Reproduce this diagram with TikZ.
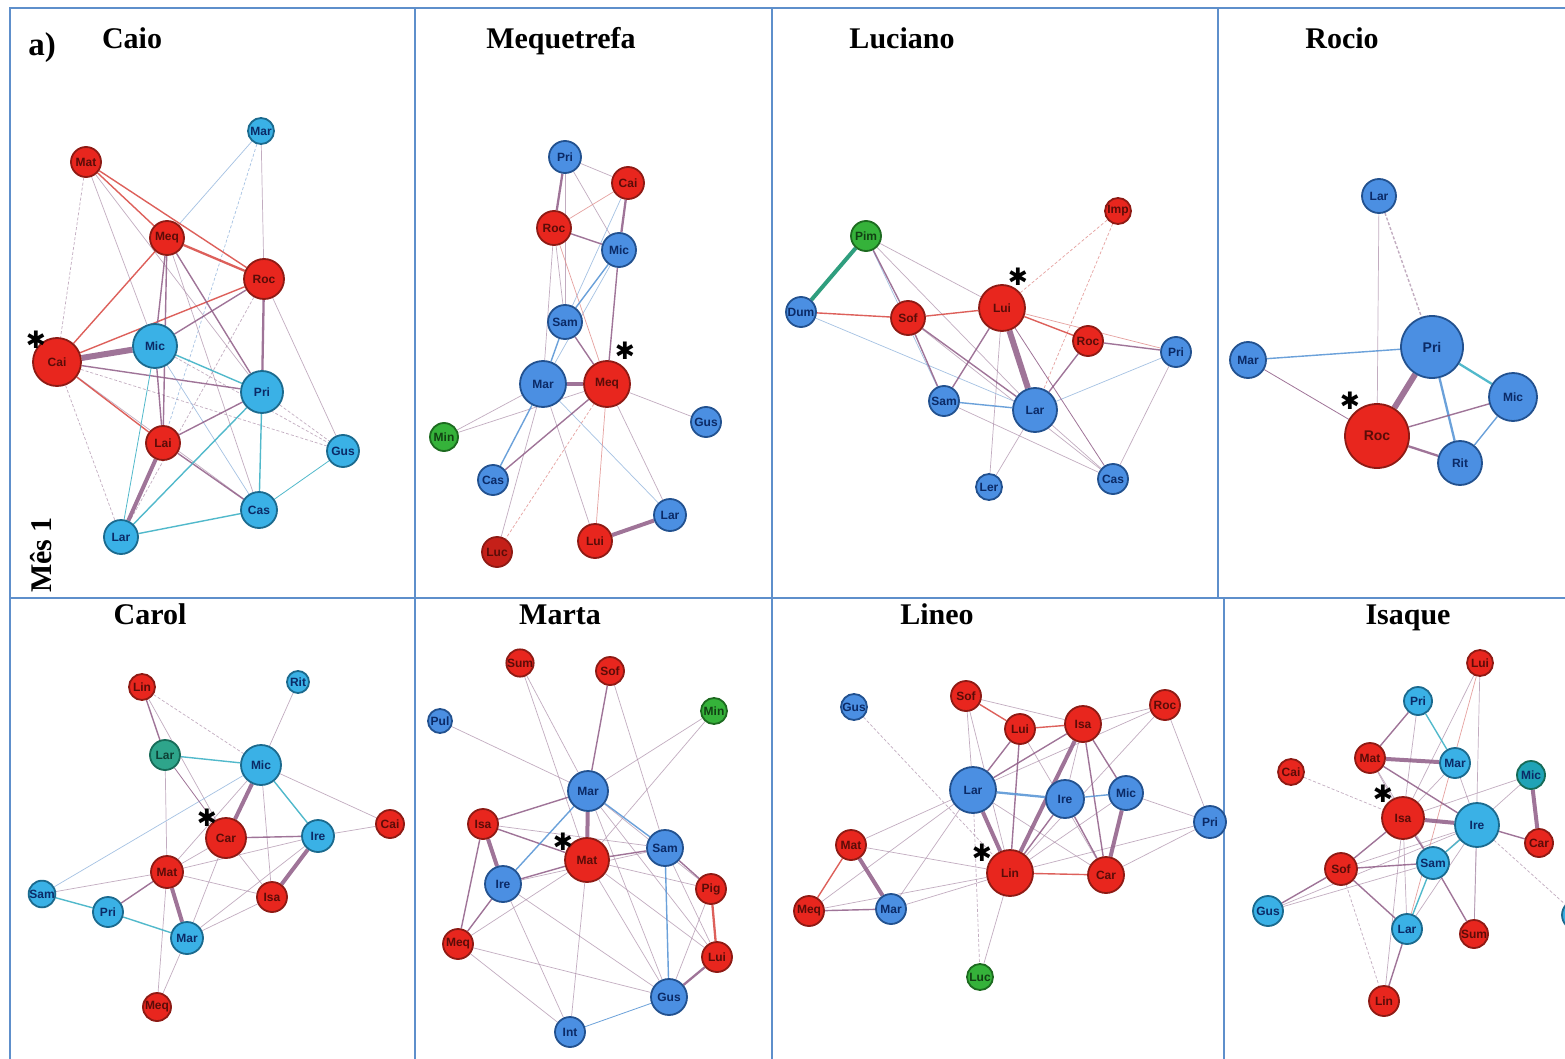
\documentclass[tikz,border=0pt]{standalone}
\usepackage{fontspec}
\setmainfont{Liberation Serif}
\setsansfont{Liberation Sans}
\newfontfamily\symfont{DejaVu Sans}
\usetikzlibrary{backgrounds}
\definecolor{rfill}{HTML}{E8261E}
\definecolor{rdark}{HTML}{8E1A14}
\definecolor{rtext}{HTML}{5A0C08}
\definecolor{lbfill}{HTML}{3AB1E6}
\definecolor{lbdark}{HTML}{1B6A8E}
\definecolor{btext}{HTML}{0B2A66}
\definecolor{mbfill}{HTML}{4B8FE2}
\definecolor{mbdark}{HTML}{22518F}
\definecolor{gfill}{HTML}{35B23A}
\definecolor{gdark}{HTML}{1D6B20}
\definecolor{tfill}{HTML}{2EA58B}
\definecolor{tdark}{HTML}{176B58}
\definecolor{t2fill}{HTML}{1FA3B6}
\definecolor{cred}{HTML}{D8453F}
\definecolor{cpur}{HTML}{8F5C86}
\definecolor{cblue}{HTML}{5B97D6}
\definecolor{cteal}{HTML}{3FB2C6}
\definecolor{cgteal}{HTML}{2F9E7E}
\definecolor{cthin}{HTML}{A98AA6}
\definecolor{cthinb}{HTML}{8FB3DC}
\definecolor{cthinr}{HTML}{E08A88}
\definecolor{framec}{HTML}{5E8FCB}
\tikzset{
  nb/.style={circle, line width=1.8pt, inner sep=0pt, font=\fontsize{12}{12}\selectfont\sffamily\bfseries},
  big/.style={font=\fontsize{14}{14}\selectfont\sffamily\bfseries},
  rn/.style={nb, fill=rfill, draw=rdark, text=rtext, minimum size=#1},
  lb/.style={nb, fill=lbfill, draw=lbdark, text=btext, minimum size=#1},
  mb/.style={nb, fill=mbfill, draw=mbdark, text=btext, minimum size=#1},
  gn/.style={nb, fill=gfill, draw=gdark, text=gdark!60!black, minimum size=#1},
  tn/.style={nb, fill=tfill, draw=tdark, text=tdark!60!black, minimum size=#1},
  tnb/.style={nb, fill=t2fill, draw=tdark, text=btext, minimum size=#1},
  er/.style={draw=cred, draw opacity=0.85},
  ep/.style={draw=cpur, draw opacity=0.85},
  eb/.style={draw=cblue, draw opacity=0.9},
  et/.style={draw=cteal, draw opacity=0.9},
  ex/.style={draw=cthin, draw opacity=0.7, line width=0.7pt},
  exb/.style={draw=cthinb, draw opacity=0.8, line width=0.7pt},
  exr/.style={draw=cthinr, draw opacity=0.8, line width=0.7pt},
  dsh/.style={dash pattern=on 3pt off 2pt},
  w0/.style={line width=0.8pt},
  w1/.style={line width=1.4pt},
  w2/.style={line width=2.3pt},
  w3/.style={line width=4pt},
  w4/.style={line width=6pt},
  ttl/.style={font=\fontsize{30}{30}\selectfont\bfseries, inner sep=0pt, anchor=base},
  astk/.style={font=\fontsize{24}{24}\selectfont\symfont, inner sep=0pt},
  framesty/.style={draw=framec, line width=1.2pt}
}
\begin{document}
\begin{tikzpicture}[x=1pt,y=-1pt]
\useasboundingbox (0,0) rectangle (1565,1059);
% ---------- titles ----------
\node[ttl, font=\fontsize{33}{33}\selectfont\bfseries] (lbla) at (42,56) {a)};
\node[ttl] (t1) at (132,49) {Caio};
\node[ttl] (t2) at (561,49) {Mequetrefa};
\node[ttl] (t3) at (902,49) {Luciano};
\node[ttl] (t4) at (1342,49) {Rocio};
\node[ttl] (t5) at (150,624) {Carol};
\node[ttl] (t6) at (560,624) {Marta};
\node[ttl] (t7) at (937,624) {Lineo};
\node[ttl] (t8) at (1408,624) {Isaque};
\node[ttl, rotate=90, anchor=center] (mes) at (41,555) {Mês 1};
% ---------- Panel 1: Caio ----------
\node[lb=26] (aMar) at (261,131) {Mar};
\node[rn=30] (aMat) at (86,162) {Mat};
\node[rn=34] (aMeq) at (167,238) {Meq};
\node[rn=40] (aRoc) at (264,279) {Roc};
\node[rn=48] (aCai) at (57,362) {Cai};
\node[lb=44] (aMic) at (155,346) {Mic};
\node[lb=42] (aPri) at (262,392) {Pri};
\node[rn=34] (aLai) at (163,443) {Lai};
\node[lb=32] (aGus) at (343,451) {Gus};
\node[lb=36] (aCas) at (259,510) {Cas};
\node[lb=34] (aLar) at (121,537) {Lar};
\node[astk] (aAst) at (36,340) {✱};
% ---------- Panel 2: Mequetrefa ----------
\node[mb=32] (bPri) at (565,157) {Pri};
\node[rn=32] (bCai) at (628,183) {Cai};
\node[rn=34] (bRoc) at (554,228) {Roc};
\node[mb=34] (bMic) at (619,250) {Mic};
\node[mb=34] (bSam) at (565,322) {Sam};
\node[mb=46] (bMar) at (543,384) {Mar};
\node[rn=46] (bMeq) at (607,384) {Meq};
\node[gn=28] (bMin) at (444,437) {Min};
\node[mb=30] (bGus) at (706,422) {Gus};
\node[mb=30] (bCas) at (493,480) {Cas};
\node[mb=32] (bLar) at (670,515) {Lar};
\node[rn=30, fill=rfill!85!black] (bLuc) at (497,552) {Luc};
\node[rn=34] (bLui) at (595,541) {Lui};
\node[astk] (bAst) at (625,351) {✱};
% ---------- Panel 3: Luciano ----------
\node[rn=26] (cImp) at (1118,211) {Imp};
\node[gn=30] (cPim) at (866,236) {Pim};
\node[mb=30] (cDum) at (801,312) {Dum};
\node[rn=34] (cSof) at (908,318) {Sof};
\node[rn=46] (cLui) at (1002,308) {Lui};
\node[rn=30] (cRoc) at (1088,341) {Roc};
\node[mb=30] (cPri) at (1176,352) {Pri};
\node[mb=30] (cSam) at (944,401) {Sam};
\node[mb=44] (cLar) at (1035,410) {Lar};
\node[mb=26] (cLer) at (989,487) {Ler};
\node[mb=30] (cCas) at (1113,479) {Cas};
\node[astk] (cAst) at (1018,277) {✱};
% ---------- Panel 4: Rocio ----------
\node[mb=34] (dLar) at (1379,196) {Lar};
\node[mb=36] (dMar) at (1248,360) {Mar};
\node[mb=62, big] (dPri) at (1432,347) {Pri};
\node[mb=48] (dMic) at (1513,397) {Mic};
\node[rn=64, big] (dRoc) at (1377,436) {Roc};
\node[mb=44] (dRit) at (1460,463) {Rit};
\node[astk] (dAst) at (1350,401) {✱};
% ---------- Panel 5: Carol ----------
\node[rn=26] (eLin) at (142,687) {Lin};
\node[lb=22] (eRit) at (298,682) {Rit};
\node[tn=30] (eLar) at (165,755) {Lar};
\node[lb=40] (eMic) at (261,765) {Mic};
\node[rn=40] (eCar) at (226,838) {Car};
\node[rn=28] (eCai) at (390,824) {Cai};
\node[lb=32] (eIre) at (318,836) {Ire};
\node[rn=32] (eMat) at (167,872) {Mat};
\node[rn=30] (eIsa) at (272,897) {Isa};
\node[lb=26] (eSam) at (42,894) {Sam};
\node[lb=30] (ePri) at (108,912) {Pri};
\node[lb=32] (eMar) at (187,938) {Mar};
\node[rn=28] (eMeq) at (157,1007) {Meq};
\node[astk] (eAst) at (207,818) {✱};
% ---------- Panel 6: Marta ----------
\node[rn=26] (fSum) at (520,663) {Sum};
\node[rn=28] (fSof) at (610,671) {Sof};
\node[mb=24] (fPul) at (440,721) {Pul};
\node[gn=26] (fMin) at (714,711) {Min};
\node[mb=40] (fMar) at (588,791) {Mar};
\node[rn=30] (fIsa) at (483,824) {Isa};
\node[mb=36] (fSam) at (665,848) {Sam};
\node[rn=44] (fMat) at (587,860) {Mat};
\node[mb=36] (fIre) at (503,884) {Ire};
\node[rn=30] (fPig) at (711,889) {Pig};
\node[rn=30] (fMeq) at (458,944) {Meq};
\node[rn=30] (fLui) at (717,957) {Lui};
\node[mb=36] (fGus) at (669,997) {Gus};
\node[mb=30] (fInt) at (570,1032) {Int};
\node[astk] (fAst) at (563,842) {✱};
% ---------- Panel 7: Lineo ----------
\node[rn=30] (gSof) at (966,696) {Sof};
\node[mb=26] (gGus) at (854,707) {Gus};
\node[rn=30] (gLui) at (1020,729) {Lui};
\node[rn=36] (gIsa) at (1083,724) {Isa};
\node[rn=30] (gRoc) at (1165,705) {Roc};
\node[mb=46] (gLar) at (973,790) {Lar};
\node[mb=38] (gIre) at (1065,799) {Ire};
\node[mb=34] (gMic) at (1126,793) {Mic};
\node[mb=32] (gPri) at (1210,822) {Pri};
\node[rn=30] (gMat) at (851,845) {Mat};
\node[rn=46] (gLin) at (1010,873) {Lin};
\node[rn=36] (gCar) at (1106,875) {Car};
\node[rn=30] (gMeq) at (809,911) {Meq};
\node[mb=30] (gMar) at (891,909) {Mar};
\node[gn=26] (gLuc) at (980,977) {Luc};
\node[astk] (gAst) at (982,853) {✱};
% ---------- Panel 8: Isaque ----------
\node[rn=26] (hLui) at (1480,663) {Lui};
\node[lb=28] (hPri) at (1418,701) {Pri};
\node[rn=30] (hMat) at (1370,758) {Mat};
\node[lb=30] (hMar) at (1455,763) {Mar};
\node[rn=26] (hCai) at (1291,772) {Cai};
\node[tnb=28] (hMic) at (1531,775) {Mic};
\node[rn=42] (hIsa) at (1403,818) {Isa};
\node[lb=44] (hIre) at (1477,825) {Ire};
\node[rn=28] (hCar) at (1539,843) {Car};
\node[rn=32] (hSof) at (1341,869) {Sof};
\node[lb=32] (hSam) at (1433,863) {Sam};
\node[lb=30] (hGus) at (1268,911) {Gus};
\node[lb=30] (hLar) at (1407,929) {Lar};
\node[rn=28] (hSum) at (1474,934) {Sum};
\node[rn=30] (hLin) at (1384,1001) {Lin};
\node[lb=30] (hPri2) at (1577,915) {Pri};
\node[astk] (hAst) at (1383,794) {✱};
% ================= edges & frames on background =================
\begin{scope}[on background layer]
\fill[white] (0,0) rectangle (1565,1059);
\draw[framesty] (10,1059) -- (10,8) -- (1565,8);
\draw[framesty] (10,598) -- (1565,598);
\draw[framesty] (415,8) -- (415,1059);
\draw[framesty] (772,8) -- (772,1059);
\draw[framesty] (1218,8) -- (1218,598);
\draw[framesty] (1224,598) -- (1224,1059);
% ---- Panel 1
\foreach \a/\b in {aMar/aRoc, aRoc/aGus, aMat/aMic, aMat/aPri, aCai/aCas, aMeq/aCas} \draw[ex] (\a) -- (\b);
\foreach \a/\b in {aMat/aCai, aCai/aGus, aCai/aLar, aPri/aGus, aRoc/aLar, aMic/aGus} \draw[ex,dsh] (\a) -- (\b);
\foreach \a/\b in {aMar/aMeq, aMic/aCas} \draw[exb] (\a) -- (\b);
\draw[exb,dsh] (aMar) -- (aLai);
\foreach \a/\b in {aMat/aMeq, aMat/aRoc, aCai/aMeq, aCai/aRoc, aCai/aLai} \draw[er,w1] (\a) -- (\b);
\draw[er,w2] (aMeq) -- (aRoc);
\foreach \a/\b in {aMeq/aPri, aMeq/aLai, aMeq/aMic, aRoc/aMic, aCai/aPri, aMic/aLai, aLai/aPri, aLai/aCas} \draw[ep,w1] (\a) -- (\b);
\draw[ep,w2] (aRoc) -- (aPri);
\draw[ep,w3] (aLai) -- (aLar);
\draw[ep,w4] (aCai) -- (aMic);
\foreach \a/\b in {aMic/aPri, aPri/aCas, aPri/aLar, aLar/aCas} \draw[et,w1] (\a) -- (\b);
\foreach \a/\b in {aCas/aGus, aMic/aLar} \draw[et,w0] (\a) -- (\b);
% ---- Panel 2
\foreach \a/\b in {bPri/bCai, bPri/bMic, bPri/bSam, bRoc/bSam, bRoc/bMar, bMar/bMin, bMeq/bMin, bMar/bLui, bMeq/bGus, bMeq/bLar, bMar/bLuc} \draw[ex] (\a) -- (\b);
\foreach \a/\b in {bCai/bSam, bMic/bMar, bMar/bLar} \draw[exb] (\a) -- (\b);
\foreach \a/\b in {bCai/bRoc, bRoc/bMeq, bMeq/bLui} \draw[exr] (\a) -- (\b);
\draw[exr,dsh] (bMeq) -- (bLuc);
\foreach \a/\b in {bRoc/bMic, bMic/bMeq, bSam/bMeq, bMeq/bCas} \draw[ep,w1] (\a) -- (\b);
\foreach \a/\b in {bPri/bRoc, bCai/bMic} \draw[ep,w2] (\a) -- (\b);
\foreach \a/\b in {bMar/bMeq, bLui/bLar} \draw[ep,w3] (\a) -- (\b);
\foreach \a/\b in {bSam/bMar, bMar/bCas, bMic/bSam} \draw[eb,w1] (\a) -- (\b);
% ---- Panel 3
\foreach \a/\b in {cPim/cLui, cPim/cLar, cSof/cCas, cLui/cLer, cSam/cCas, cLar/cCas, cLar/cLer, cPri/cCas} \draw[ex] (\a) -- (\b);
\foreach \a/\b in {cPim/cSam, cDum/cLar, cLar/cPri} \draw[exb] (\a) -- (\b);
\foreach \a/\b in {cLui/cImp, cImp/cLar} \draw[exr,dsh] (\a) -- (\b);
\draw[exr] (cLui) -- (cPri);
\foreach \a/\b in {cDum/cSof, cSof/cLui, cLui/cRoc} \draw[er,w1] (\a) -- (\b);
\foreach \a/\b in {cPim/cSof, cSof/cSam, cSof/cLar, cLui/cSam, cRoc/cLar, cRoc/cPri} \draw[ep,w1] (\a) -- (\b);
\draw[ep,w0] (cLui) -- (cCas);
\draw[ep,w4] (cLui) -- (cLar);
\draw[eb,w1] (cSam) -- (cLar);
\draw[draw=cgteal,w3] (cPim) -- (cDum);
% ---- Panel 4
\draw[ex] (dLar) -- (dRoc);
\draw[ex,w1,dsh] (dLar) -- (dPri);
\draw[eb,w1] (dMar) -- (dPri);
\draw[ep,w0] (dMar) -- (dRoc);
\draw[ep,w4] (dPri) -- (dRoc);
\draw[et,w2] (dPri) -- (dMic);
\draw[eb,w2] (dPri) -- (dRit);
\draw[ep,w1] (dRoc) -- (dMic);
\draw[ep,w2] (dRoc) -- (dRit);
\draw[eb,w1] (dMic) -- (dRit);
% ---- Panel 5
\foreach \a/\b in {eLin/eCar, eRit/eMic, eLar/eMat, eMic/eIsa, eMic/eCai, eMic/eMat, eCar/eMat, eCar/eIsa, eCar/eMar, eIre/eCai, eIre/eMat, eIre/eMar, eMat/eIsa, eMat/eMeq, eMat/eSam, eMar/eMeq, eMar/eIsa} \draw[ex] (\a) -- (\b);
\draw[exb] (eMic) -- (eSam);
\draw[ex,dsh] (eLin) -- (eMic);
\foreach \a/\b in {eLin/eLar, eCar/eIre, eMat/ePri} \draw[ep,w1] (\a) -- (\b);
\draw[ep,w0] (eLar) -- (eCar);
\foreach \a/\b in {eMic/eCar, eIre/eIsa, eMat/eMar} \draw[ep,w3] (\a) -- (\b);
\foreach \a/\b in {eLar/eMic, eMic/eIre, eSam/ePri, ePri/eMar} \draw[et,w1] (\a) -- (\b);
% ---- Panel 6
\foreach \a/\b in {fSum/fMar, fSum/fMat, fSof/fSam, fPul/fMar, fMin/fMar, fMin/fMat, fMar/fPig, fMar/fLui, fMar/fGus, fIsa/fSam, fMat/fMeq, fMat/fPig, fMat/fLui, fMat/fGus, fMat/fInt, fIre/fGus, fIre/fInt, fSam/fLui, fPig/fGus, fMeq/fGus, fMeq/fInt, fIre/fSam} \draw[ex] (\a) -- (\b);
\foreach \a/\b in {fSof/fMar, fMar/fIsa, fIsa/fMat, fIsa/fMeq, fMat/fSam, fMat/fIre, fIre/fMeq, fSam/fPig} \draw[ep,w1] (\a) -- (\b);
\draw[ep,w2] (fLui) -- (fGus);
\foreach \a/\b in {fMar/fMat, fIsa/fIre} \draw[ep,w3] (\a) -- (\b);
\draw[er,w2] (fPig) -- (fLui);
\foreach \a/\b in {fMar/fIre, fMar/fSam, fSam/fGus} \draw[eb,w1] (\a) -- (\b);
\draw[eb,w0] (fInt) -- (fGus);
% ---- Panel 7
\foreach \a/\b in {gSof/gLar, gSof/gIsa, gSof/gLin, gLui/gCar, gIsa/gRoc, gRoc/gLar, gRoc/gLin, gRoc/gPri, gLar/gCar, gLar/gMat, gLar/gMeq, gLar/gMar, gMic/gLin, gMic/gPri, gPri/gCar, gPri/gLin, gLin/gMat, gLin/gMar, gLin/gMeq, gLin/gLuc, gIsa/gIre} \draw[ex] (\a) -- (\b);
\foreach \a/\b in {gLar/gLuc, gGus/gLin} \draw[ex,dsh] (\a) -- (\b);
\foreach \a/\b in {gSof/gLui, gLui/gIsa, gLin/gCar, gMat/gMeq} \draw[er,w1] (\a) -- (\b);
\foreach \a/\b in {gLui/gLar, gLui/gLin, gIsa/gLar, gIsa/gCar, gIsa/gMic, gIre/gLin, gIre/gCar, gMeq/gMar} \draw[ep,w1] (\a) -- (\b);
\foreach \a/\b in {gLar/gLin, gIsa/gLin, gMic/gCar, gMat/gMar} \draw[ep,w3] (\a) -- (\b);
\draw[eb,w2] (gLar) -- (gIre);
\draw[eb,w1] (gIre) -- (gMic);
% ---- Panel 8
\foreach \a/\b in {hPri/hIsa, hLui/hIsa, hLui/hSum, hMat/hIsa, hMat/hSam, hMar/hIre, hMar/hIsa, hMic/hIsa, hMic/hSam, hIsa/hLar, hIsa/hLin, hIre/hSof, hIre/hLar, hIre/hGus, hIre/hSum, hSam/hGus} \draw[ex] (\a) -- (\b);
\draw[exr] (hLui) -- (hLar);
\foreach \a/\b in {hCai/hIsa, hIre/hPri2, hSof/hLin} \draw[ex,dsh] (\a) -- (\b);
\foreach \a/\b in {hPri/hMat, hIsa/hSof, hIsa/hSam, hIre/hCar, hSof/hSam, hSof/hGus, hSof/hLar, hSam/hSum, hLar/hLin, hMat/hIre} \draw[ep,w1] (\a) -- (\b);
\foreach \a/\b in {hMat/hMar, hIsa/hIre, hMic/hCar} \draw[ep,w3] (\a) -- (\b);
\foreach \a/\b in {hPri/hMar, hIre/hSam, hSam/hLar} \draw[et,w1] (\a) -- (\b);
\end{scope}
\end{tikzpicture}
\end{document}
